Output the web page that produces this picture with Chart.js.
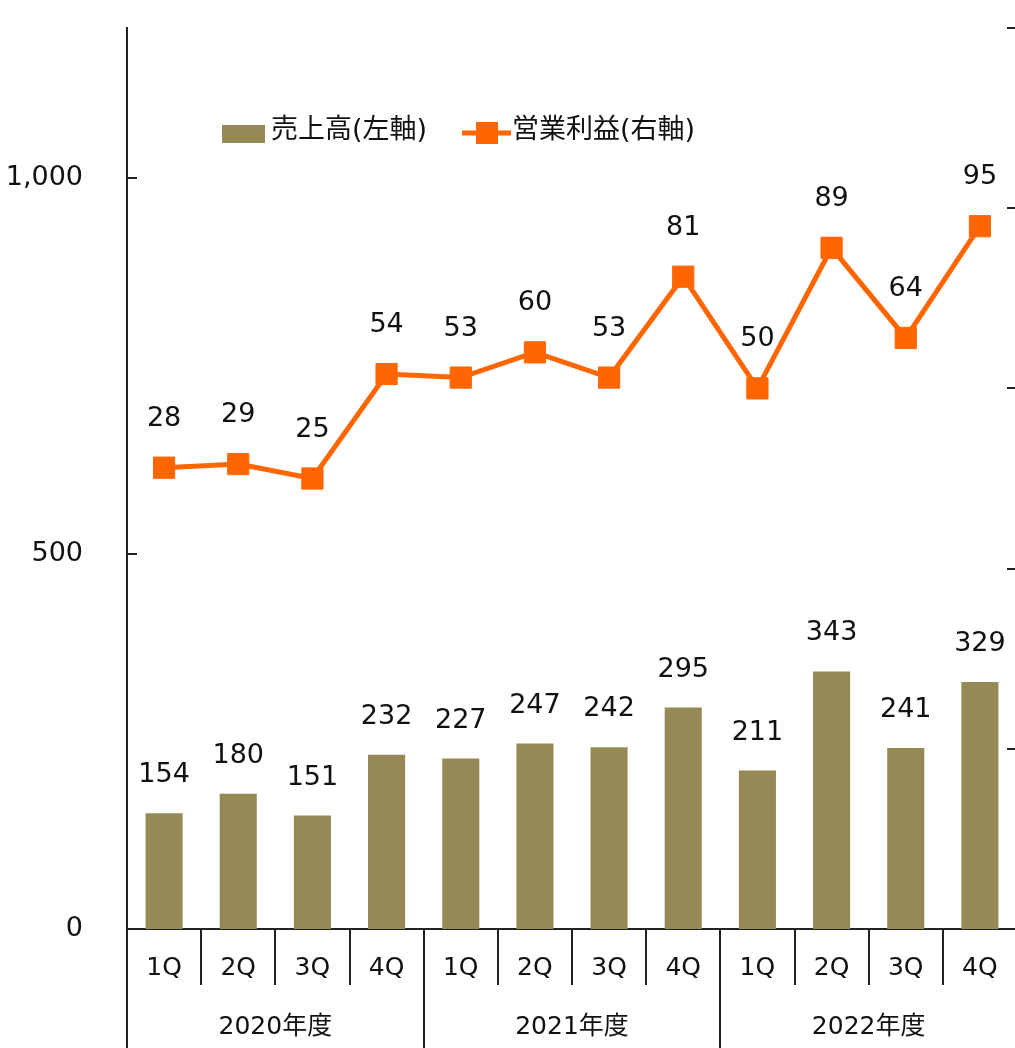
<!DOCTYPE html>
<html><head><meta charset="utf-8">
<script src="https://cdn.jsdelivr.net/npm/chart.js@4/dist/chart.umd.min.js"></script>
<style>html,body{margin:0;padding:0;overflow:hidden;background:#fff;width:1015px;height:1048px}#wrap{width:1040px;height:1048px}</style>
</head><body><div id="wrap"><canvas id="c" width="1040" height="1048"></canvas></div>
<script>
const quarters = ['1Q','2Q','3Q','4Q','1Q','2Q','3Q','4Q','1Q','2Q','3Q','4Q'];
const years = ['2020年度','2021年度','2022年度'];
const sales = [154,180,151,232,227,247,242,295,211,343,241,329];
const profit = [28,29,25,54,53,60,53,81,50,89,64,95];
const leftTicks = [0, 500, 1000];
const rightTicks = [-100, -50, 0, 50, 100, 150];
const salesLabel = '売上高(左軸)';
const profitLabel = '営業利益(右軸)';

const FONT = "'DejaVu Sans','Noto Sans CJK JP',sans-serif";
const BAR = '#958A55';
const LINE = '#FF6600';
const AXIS = '#222';
const TEXT = '#111';

const overlay = {
  id: 'overlay',
  afterDraw(chart) {
    const ctx = chart.ctx, xs = chart.scales.x, ys = chart.scales.y, y1 = chart.scales.y1, ca = chart.chartArea;
    const H = chart.height;
    ctx.save();
    ctx.strokeStyle = AXIS; ctx.lineWidth = 2;
    ctx.beginPath(); ctx.moveTo(ca.left, ca.bottom); ctx.lineTo(ca.left, H); ctx.stroke();
    const n = quarters.length;
    for (let i = 1; i <= n; i++) {
      const bx = i < n ? (xs.getPixelForValue(i - 1) + xs.getPixelForValue(i)) / 2 : ca.right;
      const long = (i % 4 === 0);
      ctx.beginPath(); ctx.moveTo(Math.round(bx), ca.bottom); ctx.lineTo(Math.round(bx), long ? H : ca.bottom + 56); ctx.stroke();
    }
    ys.ticks.forEach(t => { const py = Math.round(ys.getPixelForValue(t.value)); ctx.beginPath(); ctx.moveTo(ca.left, py); ctx.lineTo(ca.left + 10, py); ctx.stroke(); });
    y1.ticks.forEach(t => { const py = Math.round(y1.getPixelForValue(t.value)); ctx.beginPath(); ctx.moveTo(ca.right, py); ctx.lineTo(ca.right - 10, py); ctx.stroke(); });
    ctx.fillStyle = TEXT; ctx.font = '25px ' + FONT; ctx.textAlign = 'center'; ctx.textBaseline = 'middle';
    years.forEach((yl, g) => {
      const cx = (xs.getPixelForValue(g * 4) + xs.getPixelForValue(g * 4 + 3)) / 2;
      ctx.fillText(yl, cx, 1027);
    });
    ctx.font = '27px ' + FONT;
    chart.getDatasetMeta(0).data.forEach((el, i) => ctx.fillText(String(sales[i]), el.x, el.y - 38));
    chart.getDatasetMeta(1).data.forEach((el, i) => ctx.fillText(String(profit[i]), el.x, el.y - 49));
    ctx.textAlign = 'left';
    ctx.fillStyle = BAR; ctx.fillRect(222, 125, 43, 18);
    ctx.fillStyle = TEXT; ctx.fillText(salesLabel, 271, 131);
    ctx.strokeStyle = LINE; ctx.lineWidth = 5;
    ctx.beginPath(); ctx.moveTo(462, 133); ctx.lineTo(511, 133); ctx.stroke();
    ctx.fillStyle = LINE; ctx.fillRect(476, 122, 22, 22);
    ctx.fillStyle = TEXT; ctx.fillText(profitLabel, 512, 131);
    ctx.restore();
  }
};

new Chart(document.getElementById('c'), {
  data: {
    labels: quarters,
    datasets: [
      { type: 'bar', label: salesLabel, data: sales, yAxisID: 'y', order: 2,
        backgroundColor: BAR, borderWidth: 0, categoryPercentage: 1, barPercentage: 0.5 },
      { type: 'line', label: profitLabel, data: profit, yAxisID: 'y1', order: 1,
        borderColor: LINE, backgroundColor: LINE, borderWidth: 5, tension: 0,
        pointStyle: 'rect', pointRadius: 15, pointBackgroundColor: LINE, pointBorderColor: LINE, pointBorderWidth: 1 }
    ]
  },
  options: {
    responsive: false, animation: false, devicePixelRatio: 1,
    layout: { padding: { top: 28, left: 0, right: 0, bottom: 0 } },
    plugins: { legend: { display: false }, tooltip: { enabled: false } },
    scales: {
      x: { type: 'category', offset: true, grid: { display: false },
        border: { display: true, color: AXIS, width: 2 },
        ticks: { font: { family: FONT, size: 25 }, color: TEXT, padding: 16, maxRotation: 0, autoSkip: false },
        afterFit: s => { s.height = 119; s.paddingLeft = 0; s.paddingRight = 0; } },
      y: { position: 'left', min: 0, max: 1200,
        ticks: { font: { family: FONT, size: 27 }, color: TEXT, padding: 44, autoSkip: false, includeBounds: false,
          callback: v => Number(v).toLocaleString('en-US') },
        afterBuildTicks: s => { s.ticks = leftTicks.map(v => ({ value: v })); },
        grid: { display: false, drawTicks: false }, border: { display: true, color: AXIS, width: 2 },
        afterFit: s => { s.width = 127; s.paddingTop = 0; s.paddingBottom = 0; } },
      y1: { position: 'right', min: -100, max: 150,
        ticks: { display: false, autoSkip: false, includeBounds: false },
        afterBuildTicks: s => { s.ticks = rightTicks.map(v => ({ value: v })); },
        grid: { display: false, drawTicks: false }, border: { display: false },
        afterFit: s => { s.width = 23; s.paddingTop = 0; s.paddingBottom = 0; } }
    }
  },
  plugins: [overlay]
});
</script></body></html>
